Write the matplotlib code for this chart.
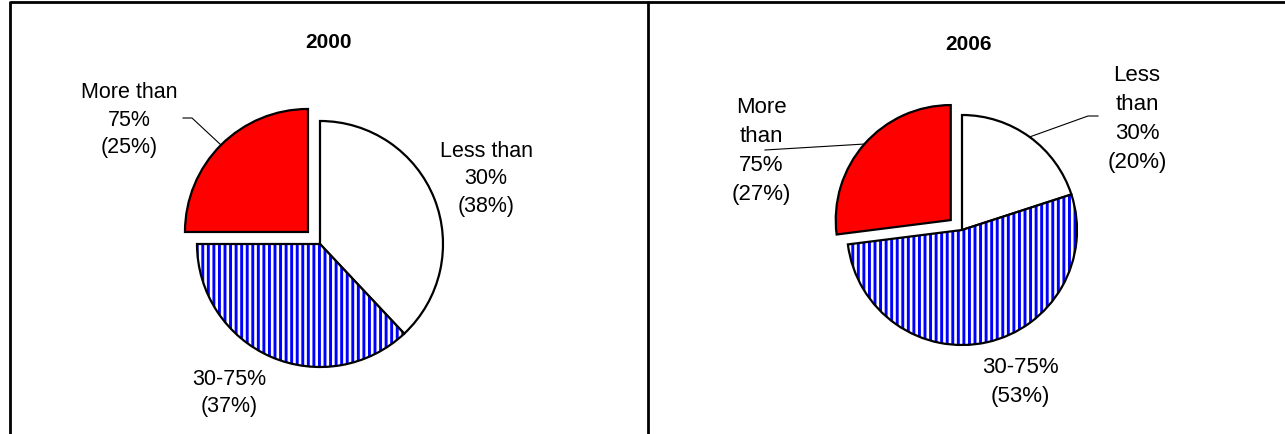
import numpy as np
import matplotlib
matplotlib.use("Agg")
import matplotlib.pyplot as plt
from matplotlib.patches import Wedge

plt.rcParams['font.family'] = ['Liberation Sans', 'DejaVu Sans']
plt.rcParams['hatch.linewidth'] = 2.1

# data
categories = ['Less than 30%', '30-75%', 'More than 75%']
years = ['2000', '2006']
shares_2000 = [38, 37, 25]
shares_2006 = [20, 53, 27]
labels_2000 = ['Less than\n30%\n(38%)', '30-75%\n(37%)', 'More than\n75%\n(25%)']
labels_2006 = ['Less\nthan\n30%\n(20%)', '30-75%\n(53%)', 'More\nthan\n75%\n(27%)']
colors = ['white', 'white', 'red']

W, H = 1285, 435
fig = plt.figure(figsize=(W / 100, H / 100), dpi=100)
ax = fig.add_axes([0, 0, 1, 1])


def draw_pie(values, center, r, expl, lbls, lbl_pos, spacing, size, title, title_pos, leaders):
    cx, cy = center
    wedges, _ = ax.pie(values, colors=colors, startangle=90, counterclock=False,
                       explode=[0, 0, expl], center=(cx, H - cy), radius=r, frame=True,
                       wedgeprops=dict(edgecolor='black', linewidth=1.6))
    # striped middle slice
    wb = wedges[1]
    wb.set_edgecolor('blue')
    wb.set_hatch('|||')
    wb.set_linewidth(0)
    ax.add_patch(Wedge(wb.center, wb.r, wb.theta1, wb.theta2, fill=False,
                       edgecolor='black', linewidth=1.6, zorder=wb.get_zorder() + 0.1))
    for txt, (lx, ly) in zip(lbls, lbl_pos):
        ax.text(lx, H - ly, txt, ha='center', va='center', fontsize=size,
                linespacing=spacing, multialignment='center')
    ax.text(title_pos[0], H - title_pos[1], title, ha='center', va='center',
            fontsize=15, fontweight='bold')
    # leader lines to the middle of the arc
    for idx, pts in leaders:
        w = wedges[idx]
        a = np.deg2rad((w.theta1 + w.theta2) / 2)
        ex = w.center[0] + w.r * np.cos(a)
        ey = w.center[1] + w.r * np.sin(a)
        xs = [p[0] for p in pts] + [ex]
        ys = [H - p[1] for p in pts] + [ey]
        ax.plot(xs, ys, color='black', linewidth=0.8)


draw_pie(shares_2000, (320, 245), 123, 17, labels_2000,
         [(486, 179), (229, 393), (129, 120)], 1.40, 15.5,
         years[0], (329, 42), [(2, [(183, 119), (192, 119)])])
draw_pie(shares_2006, (962, 231), 115, 15, labels_2006,
         [(1137, 119), (1020, 382), (761, 151)], 1.52, 16,
         years[1], (969, 45), [(0, [(1098, 117), (1088, 117)]), (2, [(765, 151)])])

# panel frame
ax.plot([10, W], [H - 3, H - 3], color='black', linewidth=2, solid_capstyle='butt')
ax.plot([10.3, 10.3], [0, H - 2], color='black', linewidth=2, solid_capstyle='butt')
ax.plot([648, 648], [0, H - 2], color='black', linewidth=2, solid_capstyle='butt')

ax.set_xlim(0, W)
ax.set_ylim(0, H)
ax.set_aspect('auto')
ax.axis('off')

fig.savefig('out.png', dpi=100)
